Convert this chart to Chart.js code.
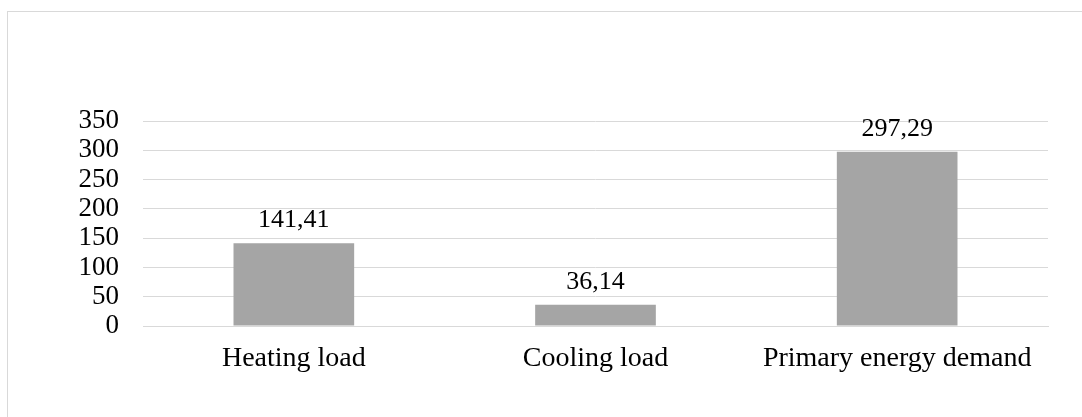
<!DOCTYPE html>
<html>
<head>
<meta charset="utf-8">
<script src="https://cdn.jsdelivr.net/npm/chart.js@4.4.0/dist/chart.umd.min.js"></script>
<style>
    html, body { margin: 0; padding: 0; background: #fff; overflow: hidden; }
    #wrap { position: relative; width: 1082px; height: 417px; }
    #frame {
        position: absolute; left: 7px; top: 11px; width: 1100px; height: 430px;
        border: 1px solid #d9d9d9; box-sizing: border-box;
    }
    #chart { position: absolute; left: 0; top: 0; }
</style>
</head>
<body>
<div id="wrap">
    <div id="frame"></div>
    <canvas id="chart" width="1082" height="417"></canvas>
</div>
<script>
    // Chart data
    const categories = ["Heating load", "Cooling load", "Primary energy demand"];
    const values = [141.41, 36.14, 297.29];
    const yTicks = [0, 50, 100, 150, 200, 250, 300, 350];

    const fontFamily = "'Liberation Serif', 'Times New Roman', serif";

    // simple value labels above the bars (comma as decimal sign)
    const valueLabels = {
        id: "valueLabels",
        afterDatasetsDraw(chart) {
            const ctx = chart.ctx;
            const meta = chart.getDatasetMeta(0);
            ctx.save();
            ctx.font = "26px " + fontFamily;
            ctx.fillStyle = "#000";
            ctx.textAlign = "center";
            ctx.textBaseline = "bottom";
            meta.data.forEach((bar, i) => {
                const txt = values[i].toFixed(2).replace(".", ",");
                ctx.fillText(txt, bar.x, bar.y - 10);
            });
            ctx.restore();
        },
    };

    const ctx = document.getElementById("chart").getContext("2d");
    const chart = new Chart(ctx, {
        type: "bar",
        data: {
            labels: categories,
            datasets: [
                {
                    data: values,
                    backgroundColor: "#a5a5a5",
                    borderWidth: 0,
                    categoryPercentage: 1,
                    barPercentage: 0.4,
                },
            ],
        },
        options: {
            responsive: false,
            animation: false,
            layout: {
                padding: { left: 0, top: 121, right: 34, bottom: 0 },
            },
            plugins: {
                legend: { display: false },
                tooltip: { enabled: false },
            },
            scales: {
                x: {
                    grid: { display: false, drawTicks: false },
                    border: { display: true, color: "#d9d9d9", width: 1 },
                    ticks: {
                        color: "#000",
                        font: { family: fontFamily, size: 28 },
                        padding: 16,
                        maxRotation: 0,
                        autoSkip: false,
                    },
                    afterFit(scale) {
                        scale.height = 91;
                    },
                },
                y: {
                    min: 0,
                    max: 350,
                    afterBuildTicks(scale) {
                        scale.ticks = yTicks.map((v) => ({ value: v }));
                    },
                    grid: { color: "#d9d9d9", lineWidth: 1, drawTicks: false },
                    border: { display: false },
                    ticks: {
                        color: "#000",
                        font: { family: fontFamily, size: 27 },
                        padding: 24,
                        autoSkip: false,
                    },
                    afterFit(scale) {
                        scale.width = 143;
                    },
                },
            },
        },
        plugins: [valueLabels],
    });
</script>
</body>
</html>
